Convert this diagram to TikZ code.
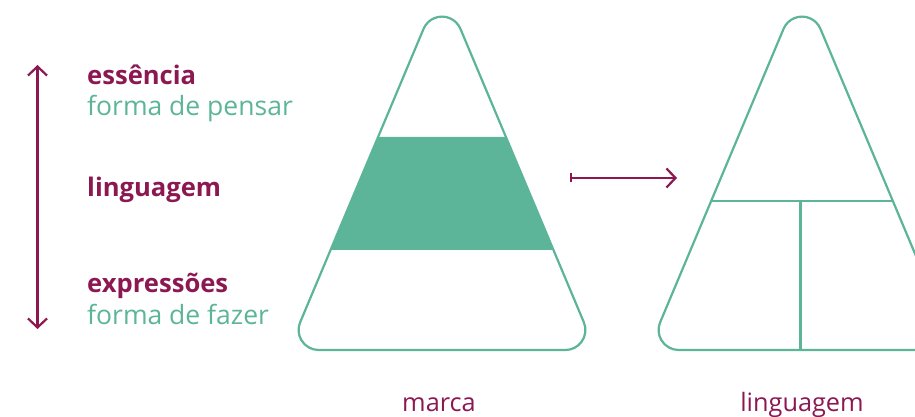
\documentclass[tikz,border=0pt]{standalone}
\usepackage{fontspec}
\setmainfont{Open Sans}
\usetikzlibrary{arrows.meta}
\definecolor{mgreen}{RGB}{92,181,152}
\definecolor{mpurple}{RGB}{140,24,82}
\begin{document}
\begin{tikzpicture}[x=1pt,y=1pt,
  triline/.style={draw=mgreen, line width=2.2pt, line join=round},
  lbl/.style={inner sep=0pt, anchor=base west, font=\fontsize{26.5}{30}\selectfont},
  blbl/.style={inner sep=0pt, anchor=base west, text=mpurple, font=\fontsize{25.6}{30}\selectfont\bfseries},
  capt/.style={inner sep=0pt, anchor=base, text=mpurple, font=\fontsize{25.3}{30}\selectfont},
  parr/.style={draw=mpurple, line width=2.2pt},
  trishape/.pic={
    \draw[triline] (-123.4,0) arc[start angle=270,end angle=157.2,radius=20]
      -- (-18.44,321.15) arc[start angle=157.2,end angle=22.8,radius=20]
      -- (141.84,27.75) arc[start angle=22.8,end angle=-90,radius=20] -- cycle;
  }]
\useasboundingbox (0,0) rectangle (915,417);
\clip (0,0) rectangle (915,417);

% left labels
\node[blbl] (ess) at (87,332) {essência};
\node[lbl, text=mgreen] (pens) at (87,301) {forma de pensar};
\node[blbl] (ling) at (87,220) {linguagem};
\node[blbl] (expr) at (87,124) {expressões};
\node[lbl, text=mgreen] (faz) at (87,92) {forma de fazer};

% left double arrow
\coordinate (vtop) at (37.5,352);
\coordinate (vbot) at (37.5,88);
\draw[parr, {Straight Barb[length=9pt,width=19pt]}-{Straight Barb[length=9pt,width=19pt]}] (vbot) -- (vtop);

% left triangle
\begin{scope}[shift={(442,67)}]
  \fill[mgreen] (-111.45,100) -- (111.45,100) -- (63.9,213) -- (-63.9,213) -- cycle;
  \pic {trishape};
\end{scope}

% middle arrow
\coordinate (ma) at (570,239);
\coordinate (mb) at (677,239);
\draw[parr, {Bar[width=9pt]}-{Straight Barb[length=9pt,width=19pt]}] (ma) -- (mb);

% right triangle
\begin{scope}[shift={(802,67)}]
  \pic {trishape};
  \coordinate (hl) at (-90.8,149);
  \coordinate (hr) at (90.8,149);
  \coordinate (vt) at (-1.5,149);
  \coordinate (vb) at (-1.5,0);
  \draw[triline] (hl) -- (hr);
  \draw[triline] (vt) -- (vb);
\end{scope}

% captions
\node[capt] (marca) at (439,5.5) {marca};
\node[capt] (lingc) at (802,5.5) {linguagem};
\end{tikzpicture}
\end{document}
